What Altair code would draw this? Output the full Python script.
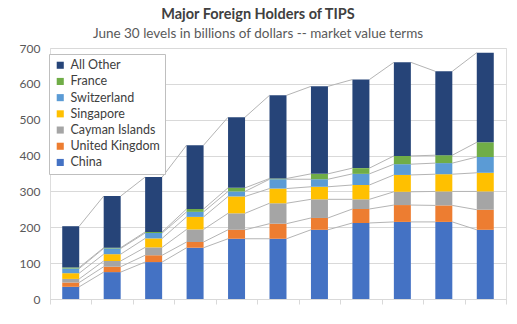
import altair as alt
import pandas as pd

years = [2011, 2012, 2013, 2014, 2015, 2016, 2017, 2018, 2019, 2020, 2021]
china = [34, 75, 103, 143, 168, 168, 193, 212, 215, 215, 193]
united_kingdom = [12, 15, 19, 16, 25, 42, 33, 39, 47, 46, 56]
cayman_islands = [10, 16, 22, 35, 46, 57, 52, 27, 37, 39, 51]
singapore = [16, 19, 25, 35, 47, 41, 35, 40, 47, 48, 52]
switzerland = [13, 16, 15, 14, 14, 26, 21, 31, 30, 31, 44]
france = [3, 2, 3, 8, 10, 2, 15, 16, 23, 22, 41]
all_other = [115, 144, 153, 178, 197, 232, 244, 247, 261, 234, 250]

series_names = ["China", "United Kingdom", "Cayman Islands", "Singapore",
                "Switzerland", "France", "All Other"]
series_vals = [china, united_kingdom, cayman_islands, singapore,
               switzerland, france, all_other]
colors = ["#4472C4", "#ED7D31", "#A5A5A5", "#FFC000", "#5B9BD5", "#70AD47", "#264478"]

HW = 0.205  # half bar width in year units (style)

rows = []
cum = [0] * len(years)
tops = []
for k, (name, vals) in enumerate(zip(series_names, series_vals)):
    top_k = []
    for i, y in enumerate(years):
        y0 = cum[i]
        y1 = y0 + vals[i]
        rows.append({"year": y, "series": name, "order": k, "y0": y0, "y1": y1})
        cum[i] = y1
        top_k.append(y1)
    tops.append(top_k)
bars_df = pd.DataFrame(rows)

lrows = []
for k, name in enumerate(series_names):
    for i in range(len(years) - 1):
        lrows.append({"series": name, "xa": years[i], "xb": years[i + 1],
                      "ya": tops[k][i], "yb": tops[k][i + 1]})
lines_df = pd.DataFrame(lrows)

FONT = "Lato"
xscale = alt.Scale(domain=[years[0] - 0.5, years[-1] + 0.5], nice=False, zero=False)
yscale = alt.Scale(domain=[0, 700], nice=False)

tick_vals = []
for y in years:
    tick_vals += [y - 0.5, y]
tick_vals.append(years[-1] + 0.5)

x_axis = alt.Axis(values=tick_vals, format="d", title=None,
                  labelExpr="datum.value % 1 == 0 ? datum.label : ''",
                  tickOpacity=alt.ExprRef("datum.value % 1 == 0 ? 0 : 1"),
                  tickColor="#D9D9D9", tickSize=5, domainColor="#D9D9D9",
                  grid=False, labelFontSize=12, labelColor="#595959",
                  labelFont=FONT, labelPadding=4, labelOverlap=False)
y_axis = alt.Axis(values=list(range(0, 701, 100)), title=None, ticks=False,
                  domain=False, grid=True, gridColor="#D9D9D9",
                  labelFontSize=12, labelColor="#595959", labelFont=FONT,
                  labelPadding=10, labelOverlap=False)

legend_order = list(reversed(series_names))
legend_colors = list(reversed(colors))

bars = alt.Chart(bars_df).transform_calculate(
    xl=f"datum.year - {HW}", xr=f"datum.year + {HW}"
).mark_bar().encode(
    x=alt.X("xl:Q", scale=xscale, axis=x_axis),
    x2="xr:Q",
    y=alt.Y("y0:Q", scale=yscale, axis=y_axis),
    y2="y1:Q",
    color=alt.Color("series:N",
                    scale=alt.Scale(domain=legend_order, range=legend_colors),
                    legend=alt.Legend(title=None, orient="none", legendX=-1, legendY=6,
                                      symbolType="square", symbolSize=50,
                                      symbolStrokeWidth=0,
                                      labelFontSize=12.5, labelFont=FONT,
                                      labelColor="#404040",
                                      rowPadding=3.2, padding=5,
                                      strokeColor="#BFBFBF", fillColor="white",
                                      labelLimit=200)),
    order=alt.Order("order:Q"),
)

lines = alt.Chart(lines_df).transform_calculate(
    xs=f"datum.xa + {HW}", xe=f"datum.xb - {HW}"
).mark_rule(color="#B4B4B4", strokeWidth=1).encode(
    x=alt.X("xs:Q", scale=xscale, axis=x_axis),
    x2="xe:Q",
    y=alt.Y("ya:Q", scale=yscale, axis=y_axis),
    y2="yb:Q",
)

chart = alt.layer(lines, bars).properties(
    width=456, height=251,
    title=alt.TitleParams(
        text="Major Foreign Holders of TIPS",
        subtitle="June 30 levels in billions of dollars -- market value terms",
        font=FONT, fontSize=14.5, fontWeight="bold", color="#404040",
        subtitleFont=FONT, subtitleFontSize=13.5, subtitleColor="#595959",
        subtitlePadding=4, anchor="middle", dx=-20, offset=1,
    ),
    autosize=alt.AutoSizeParams(type="none"),
    padding={"left": 50, "top": 48, "right": 11, "bottom": 25},
).configure_view(stroke=None).configure(background="white")

chart.save("out.html", embed_options={"renderer": "svg", "actions": False})
